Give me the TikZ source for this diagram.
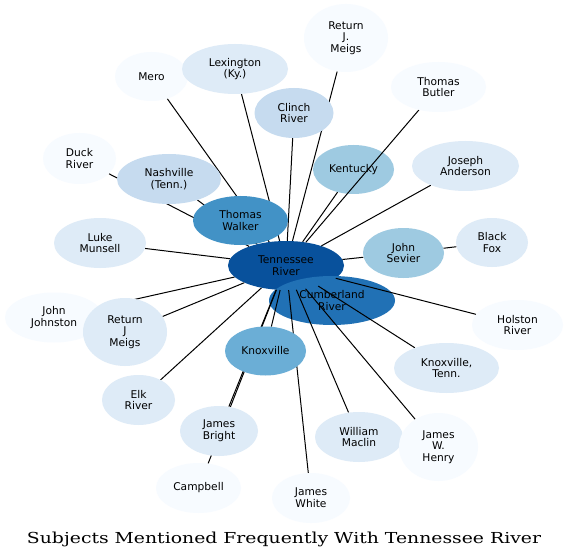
\documentclass[tikz,border=0pt]{standalone}
\usepackage{fontspec}
\usetikzlibrary{shapes.geometric}
\newfontfamily\nodefont{DejaVu Sans}
\newfontfamily\titlefont{DejaVu Serif}
\definecolor{bA}{HTML}{F7FBFF}
\definecolor{bB}{HTML}{DEEBF7}
\definecolor{bC}{HTML}{C6DBEF}
\definecolor{bD}{HTML}{9ECAE1}
\definecolor{bE}{HTML}{6BAED6}
\definecolor{bF}{HTML}{4292C6}
\definecolor{bG}{HTML}{2171B5}
\definecolor{bH}{HTML}{08519C}
\pgfdeclarelayer{bg}
\pgfdeclarelayer{edges}
\pgfsetlayers{bg,edges,main}
\tikzset{
  nd/.style={ellipse, draw=none, inner sep=0pt, align=center,
    font={\nodefont\fontsize{10.67}{11.7}\selectfont}},
  ed/.style={line width=1pt, black},
}
\begin{document}
\begin{tikzpicture}[x=1pt,y=-1pt]
\useasboundingbox (0,0) rectangle (568,559);
\begin{pgfonlayer}{bg}
\fill[white] (0,0) rectangle (568,559);
\node[nd, fill=bH, minimum width=116, minimum height=49] (T) at (286,265.5) {Tennessee\\River};
\node[nd, fill=bG, minimum width=126, minimum height=49] (Cumb) at (332,300.5) {Cumberland\\River};
\node[nd, fill=bD, minimum width=81, minimum height=49] (Ky) at (353.5,169.5) {Kentucky};
\end{pgfonlayer}
% other nodes
\node[nd, fill=bA, minimum width=73, minimum height=49] (Mero) at (151.5,76.5) {Mero};
\node[nd, fill=bB, minimum width=106, minimum height=50] (Lex) at (235,69) {Lexington\\(Ky.)};
\node[nd, fill=bC, minimum width=79, minimum height=50] (Clinch) at (294,113) {Clinch\\River};
\node[nd, fill=bA, minimum width=84, minimum height=68] (RJMa) at (346,38) {Return\\J.\\Meigs};
\node[nd, fill=bA, minimum width=95, minimum height=50] (TB) at (438.5,87) {Thomas\\Butler};
\node[nd, fill=bB, minimum width=107, minimum height=50] (JA) at (465.5,166) {Joseph\\Anderson};
\node[nd, fill=bD, minimum width=81, minimum height=50] (JS) at (403.5,253) {John\\Sevier};
\node[nd, fill=bB, minimum width=72, minimum height=49] (BF) at (492,242.5) {Black\\Fox};
\node[nd, fill=bF, minimum width=95, minimum height=49] (TW) at (240.5,220.5) {Thomas\\Walker};
\node[nd, fill=bA, minimum width=73, minimum height=51] (Duck) at (79.5,158.5) {Duck\\River};
\node[nd, fill=bC, minimum width=104, minimum height=50] (Nash) at (169,179) {Nashville\\(Tenn.)};
\node[nd, fill=bB, minimum width=92, minimum height=50] (Luke) at (100,243) {Luke\\Munsell};
\node[nd, fill=bA, minimum width=98, minimum height=50] (JJ) at (54,317.5) {John\\Johnston};
\node[nd, fill=bB, minimum width=84, minimum height=68] (RJMb) at (125,332) {Return\\J\\Meigs};
\node[nd, fill=bE, minimum width=81, minimum height=49] (Knox) at (265.5,351) {Knoxville};
\node[nd, fill=bB, minimum width=73, minimum height=50] (Elk) at (138.5,400) {Elk\\River};
\node[nd, fill=bB, minimum width=78, minimum height=50] (JB) at (219,431) {James\\Bright};
\node[nd, fill=bA, minimum width=85, minimum height=50] (Camp) at (198.5,488) {Campbell};
\node[nd, fill=bA, minimum width=78, minimum height=50] (JW) at (311,498) {James\\White};
\node[nd, fill=bB, minimum width=88, minimum height=50] (WM) at (359,437) {William\\Maclin};
\node[nd, fill=bA, minimum width=79, minimum height=68] (JWH) at (438.5,447) {James\\W.\\Henry};
\node[nd, fill=bB, minimum width=105, minimum height=50] (KT) at (446.5,368) {Knoxville,\\Tenn.};
\node[nd, fill=bA, minimum width=91, minimum height=50] (Hol) at (517.5,325) {Holston\\River};
% edges
\begin{pgfonlayer}{edges}
\foreach \n in {Mero,Lex,Clinch,RJMa,TB,Ky,JA,JS,Hol,KT,JWH,WM,JW,Knox,JB,Camp,Elk,RJMb,JJ,Luke,Duck,Nash}
  \draw[ed] (T) -- (\n);
\draw[ed] (BF) -- (JS);
\end{pgfonlayer}
% title
\node[anchor=base, inner sep=0pt] (title) at (284,543.5)
  {\resizebox{514pt}{11.5pt}{\titlefont Subjects Mentioned Frequently With Tennessee River}};
\end{tikzpicture}
\end{document}
